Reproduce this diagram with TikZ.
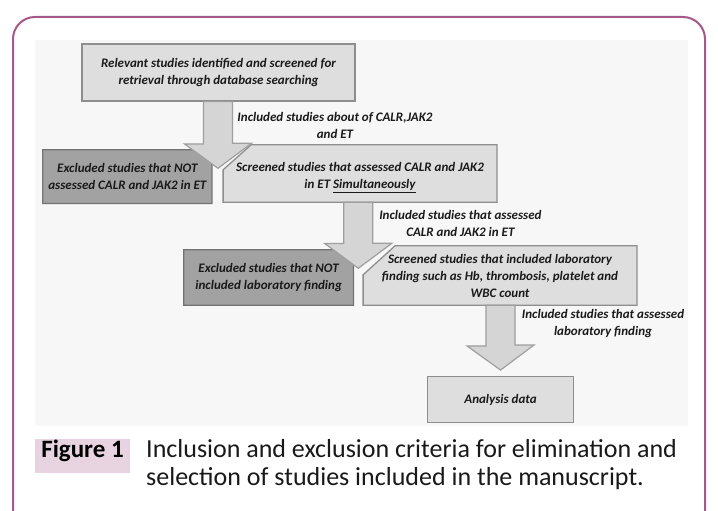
\documentclass[tikz,border=0pt]{standalone}
\usepackage{fontspec}
\setmainfont{Carlito}
\usetikzlibrary{positioning,backgrounds}

\definecolor{framePlum}{HTML}{A6588A}
\definecolor{capPink}{HTML}{E8D4E0}
\definecolor{panelGray}{HTML}{F7F7F7}
\definecolor{boxLight}{HTML}{DEDEDE}
\definecolor{boxDark}{HTML}{A2A2A2}
\definecolor{edgeGray}{HTML}{8E8E8E}
\definecolor{inkGray}{HTML}{1A1A1A}

\begin{document}
\begin{tikzpicture}[
    x=1pt, y=-1pt,
    font=\fontsize{13}{17}\selectfont\bfseries\itshape,
    text=inkGray,
    lightBox/.style={
        rectangle, draw=edgeGray, line width=1.3pt, fill=boxLight,
        align=center, inner sep=0pt
    },
    textBox/.style={
        rectangle, align=center, inner sep=0pt
    },
    lightFill/.style={
        draw=edgeGray, line width=1.3pt, fill=boxLight
    },
    darkFill/.style={
        draw=black!55, line width=1.3pt, fill=boxDark
    },
    blockArrow/.style={
        draw=edgeGray!85, line width=1.2pt, fill=boxLight!96!black
    },
    stepLabel/.style={
        align=center, inner sep=0pt
    },
    figTag/.style={
        rectangle, fill=capPink, inner sep=3pt, minimum width=95pt,
        text height=15pt, text depth=13pt, text=black,
        font=\fontsize{25}{28}\selectfont\bfseries
    },
    captionText/.style={
        align=left, inner sep=0pt, text=black!90,
        font=\fontsize{26}{28.7}\selectfont
    }
]

\useasboundingbox (0,0) rectangle (718,511);
\clip (0,0) rectangle (718,511);

% Panel and outer frame
\begin{scope}[on background layer]
    \fill[panelGray] (35,40) rectangle (688,426);
    \draw[framePlum, line width=2pt, rounded corners=22pt] (13,17) rectangle (705,533);
\end{scope}

% Top: retrieval
\node[lightBox, minimum width=273pt, minimum height=57pt] (rel) at (218.5,72.5) {
    Relevant studies identified and screened for\\
    retrieval through database searching
};

% First split
\node[textBox, minimum width=168.7pt, minimum height=53.3pt] (exc1) at (127.35,176.65) {
    Excluded studies that NOT\\
    assessed CALR and JAK2 in ET
};
\node[textBox, minimum width=273.4pt, minimum height=57pt] (scr1) at (360,173.5) {
    \rule{0pt}{17pt}Screened studies that assessed CALR and JAK2\\
    in ET \underline{Simultaneously}
};

% Second split
\node[textBox, minimum width=169.3pt, minimum height=55pt] (exc2) at (268.65,277.5) {
    Excluded studies that NOT\\
    included laboratory finding
};
\node[textBox, minimum width=273.4pt, minimum height=59pt] (scr2) at (500,275.5) {
    Screened studies that included laboratory\\
    finding such as Hb, thrombosis, platelet and\\
    WBC count
};

% Result
\node[lightBox, minimum width=145.6pt, minimum height=46pt] (ana) at (500.5,399.7) {Analysis data};

% Chamfered boxes
\begin{scope}[on background layer]
    \filldraw[darkFill] (exc1.south west) -- (exc1.north west) -- ([xshift=-13pt]exc1.north east)
        -- ([yshift=-13pt]exc1.north east) -- (exc1.south east) -- cycle;
    \filldraw[lightFill] (scr1.south west) -- ([yshift=-25pt]scr1.north west) -- ([xshift=28pt]scr1.north west)
        -- (scr1.north east) -- (scr1.south east) -- cycle;
    \filldraw[darkFill] (exc2.south west) -- (exc2.north west) -- ([xshift=-12pt]exc2.north east)
        -- ([yshift=-12pt]exc2.north east) -- (exc2.south east) -- cycle;
    \filldraw[lightFill] (scr2.south west) -- ([yshift=-29pt]scr2.north west) -- ([xshift=32pt]scr2.north west)
        -- (scr2.north east) -- (scr2.south east) -- cycle;
\end{scope}

% Block arrows
\coordinate (tip1) at (218,168.3);
\coordinate (tip2) at (358.3,268.3);
\coordinate (tip3) at ([yshift=6pt]ana.north);

\filldraw[blockArrow] ([xshift=-14.5pt]rel.south -| tip1) -- ++(0,42.3) -- ++(-19,0) -- (tip1)
    -- ++(33.5,-25) -- ++(-19,0) -- ([xshift=14.5pt]rel.south -| tip1) -- cycle;
\filldraw[blockArrow] ([xshift=-14.5pt]scr1.south -| tip2) -- ++(0,41.3) -- ++(-19,0) -- (tip2)
    -- ++(33.5,-25) -- ++(-19,0) -- ([xshift=14.5pt]scr1.south -| tip2) -- cycle;
\filldraw[blockArrow] ([xshift=-14.5pt]scr2.south -| tip3) -- ++(0,40.7) -- ++(-19,0) -- (tip3)
    -- ++(33.5,-25) -- ++(-19,0) -- ([xshift=14.5pt]scr2.south -| tip3) -- cycle;

% Arrow labels
\node[stepLabel] (inc1) at (335,125.3) {Included studies about of CALR,JAK2\\and ET};
\node[stepLabel] (inc2) at (460.4,223.7) {Included studies that assessed\\CALR and JAK2 in ET};
\node[stepLabel] (inc3) at (603,323.7) {Included studies that assessed\\laboratory finding};

% Caption
\node[figTag] (figtag) at (82.5,456) {Figure 1};
\node[captionText, anchor=north west] (figcap) at (146,439) {
    Inclusion and exclusion criteria for elimination and\\
    selection of studies included in the manuscript.
};

\end{tikzpicture}
\end{document}
